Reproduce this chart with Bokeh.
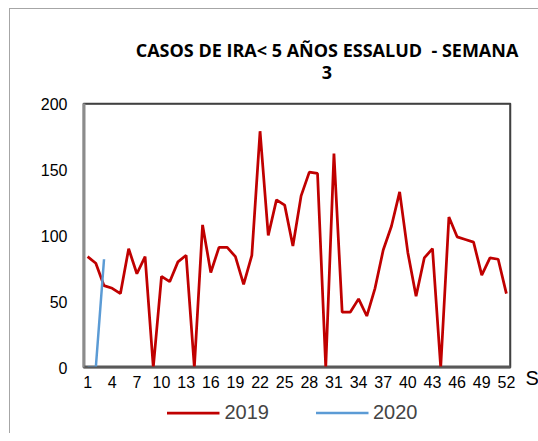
from bokeh.plotting import figure
from bokeh.layouts import column
from bokeh.models import (ColumnDataSource, Range1d, FixedTicker, Legend, LegendItem,
                          LinearAxis, Div)
from bokeh.embed import file_html
from bokeh.resources import INLINE

weeks = list(range(1, 53))
cases_2019 = [84, 79, 62, 60, 56, 90, 71, 84, 0, 69, 65, 80, 85, 0, 108, 72, 91, 91, 84, 63,
              85, 179, 100, 127, 123, 92, 130, 148, 147, 0, 162, 42, 42, 52, 39, 60, 89, 107,
              133, 87, 54, 83, 90, 0, 114, 99, 97, 95, 70, 83, 82, 56]
weeks_2020 = [1, 2, 3]
cases_2020 = [0, 0, 82]
x_ticks = list(range(1, 53, 3))
y_ticks = [0, 50, 100, 150, 200]
title_line1 = "CASOS DE IRA&lt; 5 AÑOS ESSALUD&nbsp; - SEMANA"
title_line2 = "3"
x_label = "S"
series_names = ["2019", "2020"]

x_lo, x_hi = weeks[0] - 0.5, weeks[-1] + 0.5
y_lo, y_hi = y_ticks[0], y_ticks[-1]

src19 = ColumnDataSource(dict(x=weeks, y=cases_2019))
src20 = ColumnDataSource(dict(x=weeks_2020, y=cases_2020))

title_div = Div(width=522, height=70, text=(
    '<div style="width:522px;padding-left:102px;padding-top:25px;box-sizing:border-box;'
    'text-align:center;font-family:\'Open Sans\';font-weight:bold;font-size:18px;'
    'line-height:22px;color:black;white-space:nowrap;">'
    f'{title_line1}<br>{title_line2}</div>'))

p = figure(frame_width=427, frame_height=264, output_backend="svg", toolbar_location=None,
           x_range=Range1d(x_lo, x_hi), y_range=Range1d(y_lo, y_hi),
           min_border_left=73, min_border_right=10, min_border_top=14, min_border_bottom=0)
p.title.text = ""
p.title.visible = False

p.grid.visible = False
p.outline_line_color = "#404040"
p.outline_line_width = 1.5
p.background_fill_color = "white"
p.border_fill_color = "white"

for ax in (p.xaxis[0], p.yaxis[0]):
    ax.major_tick_line_color = None
    ax.minor_tick_line_color = None
    ax.major_label_text_font = "Liberation Sans"
    ax.major_label_text_font_size = "16px"
    ax.major_label_text_color = "black"

p.yaxis.ticker = FixedTicker(ticks=y_ticks)
p.yaxis.axis_line_color = "#8c8c8c"
p.yaxis.axis_line_width = 2
p.yaxis.major_label_standoff = 10
p.xaxis.ticker = FixedTicker(ticks=x_ticks)
p.xaxis.axis_line_color = "#595959"
p.xaxis.axis_line_width = 2
p.xaxis.major_label_standoff = 2

# plot-area frame edges (top/right dark, left light grey, bottom mid grey)
p.segment(x0=[x_lo, x_hi], y0=[y_hi, y_lo], x1=[x_hi, x_hi], y1=[y_hi, y_hi],
          line_color="#404040", line_width=2.5)
p.segment(x0=[x_lo], y0=[y_lo], x1=[x_lo], y1=[y_hi], line_color="#8c8c8c", line_width=4)
p.segment(x0=[x_lo], y0=[y_lo], x1=[x_hi], y1=[y_lo], line_color="#595959", line_width=4)

p.line("x", "y", source=src19, line_color="#C00000", line_width=2.75)
p.line("x", "y", source=src20, line_color="#5B9BD5", line_width=2.5)

# the "S" of the (cut) x-axis title, placed right of the last tick label
p.extra_y_ranges = {"s": Range1d(y_lo, y_hi)}
s_axis = LinearAxis(y_range_name="s", ticker=FixedTicker(ticks=[y_lo]),
                    major_label_overrides={y_lo: "\n" + x_label},
                    axis_line_color=None, major_tick_line_color=None,
                    minor_tick_line_color=None, major_label_standoff=9,
                    major_label_text_font="Liberation Sans",
                    major_label_text_font_size="20px", major_label_text_color="black")
p.add_layout(s_axis, "right")

# legend strip below the chart (its own small figure; the series lie outside its view)
pl = figure(width=522, height=44, output_backend="svg", toolbar_location=None,
            x_range=Range1d(-2, -1), y_range=Range1d(-2, -1),
            x_axis_location=None, y_axis_location=None,
            min_border_left=34, min_border_right=0, min_border_top=0, min_border_bottom=0)
pl.title.visible = False
pl.grid.visible = False
pl.outline_line_color = None
pl.background_fill_color = "white"
pl.border_fill_color = "white"
l19 = pl.line("x", "y", source=src19, line_color="#C00000", line_width=2.75)
l20 = pl.line("x", "y", source=src20, line_color="#5B9BD5", line_width=2.5)

legend = Legend(items=[LegendItem(label=series_names[0], renderers=[l19]),
                       LegendItem(label=series_names[1], renderers=[l20])],
                orientation="horizontal", location="center",
                glyph_width=53, label_standoff=5, spacing=46,
                label_text_font="Liberation Sans", label_text_font_size="20px",
                background_fill_alpha=0, border_line_color=None, padding=2, margin=0)
pl.add_layout(legend)

layout = column(title_div, p, pl, spacing=0)
layout.margin = (9, 0, 0, 10)
layout.styles = {"box-shadow": "-1px -1px 0 0 #a6a6a6, 1px 0 0 0 #a6a6a6"}

open("out.html", "w").write(file_html(layout, INLINE))
